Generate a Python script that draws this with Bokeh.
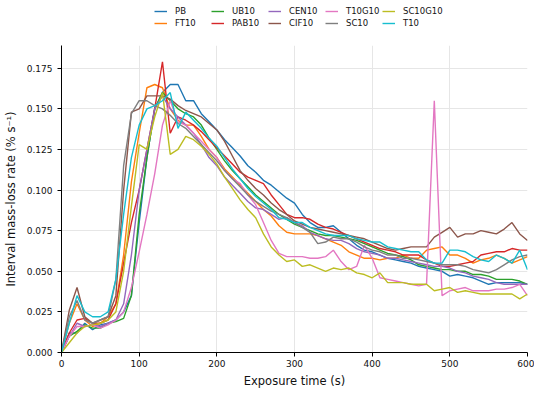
from bokeh.plotting import figure
from bokeh.layouts import column
from bokeh.models import Range1d, FixedTicker, NumeralTickFormatter, Legend, LegendItem
from bokeh.embed import file_html
from bokeh.resources import INLINE

# Exposure time (s), sampled every 10 s
TIME = list(range(0, 610, 10))

PB = [0, 0.012, 0.012, 0.018, 0.014, 0.017, 0.018, 0.020, 0.025, 0.035,
      0.080, 0.120, 0.150, 0.160, 0.165, 0.165, 0.155, 0.155, 0.147, 0.142,
      0.137, 0.131, 0.126, 0.121, 0.115, 0.111, 0.106, 0.103, 0.099, 0.095,
      0.092, 0.085, 0.080, 0.077, 0.077, 0.078, 0.074, 0.070, 0.066, 0.063,
      0.062, 0.060, 0.058, 0.057, 0.056, 0.055, 0.053, 0.052, 0.051, 0.050,
      0.047, 0.048, 0.047, 0.046, 0.044, 0.042, 0.043, 0.043, 0.043, 0.043, 0.042]

FT10 = [0, 0.018, 0.030, 0.020, 0.016, 0.018, 0.022, 0.030, 0.060, 0.105,
        0.135, 0.163, 0.165, 0.163, 0.150, 0.143, 0.140, 0.140, 0.133, 0.125,
        0.120, 0.113, 0.108, 0.103, 0.098, 0.093, 0.088, 0.084, 0.078, 0.074,
        0.073, 0.073, 0.073, 0.072, 0.070, 0.068, 0.066, 0.062, 0.060, 0.058,
        0.058, 0.057, 0.058, 0.058, 0.060, 0.058, 0.058, 0.063, 0.064, 0.065,
        0.060, 0.060, 0.058, 0.055, 0.057, 0.058, 0.060, 0.058, 0.055, 0.057, 0.059]

UB10 = [0, 0.010, 0.013, 0.017, 0.015, 0.015, 0.018, 0.019, 0.021, 0.035,
        0.085, 0.120, 0.150, 0.160, 0.155, 0.150, 0.147, 0.145, 0.140, 0.132,
        0.125, 0.118, 0.112, 0.107, 0.102, 0.097, 0.093, 0.089, 0.085, 0.082,
        0.079, 0.077, 0.075, 0.073, 0.072, 0.072, 0.071, 0.070, 0.069, 0.067,
        0.065, 0.063, 0.061, 0.060, 0.059, 0.057, 0.054, 0.053, 0.052, 0.051,
        0.051, 0.050, 0.050, 0.048, 0.048, 0.047, 0.045, 0.045, 0.045, 0.044, 0.042]

PAB10 = [0, 0.012, 0.020, 0.021, 0.018, 0.018, 0.020, 0.030, 0.055, 0.080,
         0.100, 0.125, 0.150, 0.179, 0.135, 0.145, 0.143, 0.140, 0.136, 0.131,
         0.126, 0.121, 0.116, 0.111, 0.108, 0.106, 0.104, 0.097, 0.091, 0.085,
         0.083, 0.083, 0.082, 0.079, 0.077, 0.076, 0.074, 0.072, 0.070, 0.068,
         0.066, 0.064, 0.063, 0.062, 0.060, 0.060, 0.060, 0.057, 0.055, 0.053,
         0.053, 0.054, 0.055, 0.056, 0.060, 0.061, 0.062, 0.062, 0.064, 0.063, 0.063]

CEN10 = [0, 0.010, 0.018, 0.016, 0.017, 0.016, 0.018, 0.020, 0.030, 0.060,
         0.100, 0.125, 0.150, 0.158, 0.150, 0.145, 0.140, 0.135, 0.128, 0.120,
         0.115, 0.108, 0.103, 0.098, 0.093, 0.089, 0.088, 0.085, 0.082, 0.083,
         0.080, 0.078, 0.074, 0.072, 0.070, 0.069, 0.069, 0.067, 0.064, 0.062,
         0.061, 0.060, 0.058, 0.058, 0.057, 0.056, 0.055, 0.054, 0.053, 0.053,
         0.052, 0.050, 0.049, 0.047, 0.046, 0.045, 0.043, 0.042, 0.042, 0.042, 0.042]

CIF10 = [0, 0.026, 0.040, 0.022, 0.018, 0.020, 0.022, 0.035, 0.100, 0.148,
         0.150, 0.158, 0.158, 0.158, 0.156, 0.152, 0.149, 0.147, 0.145, 0.141,
         0.137, 0.130, 0.121, 0.112, 0.106, 0.101, 0.097, 0.092, 0.088, 0.085,
         0.081, 0.079, 0.077, 0.076, 0.075, 0.074, 0.073, 0.072, 0.071, 0.070,
         0.068, 0.066, 0.064, 0.063, 0.064, 0.065, 0.065, 0.065, 0.071, 0.074,
         0.077, 0.071, 0.073, 0.073, 0.075, 0.074, 0.073, 0.076, 0.080, 0.073, 0.069]

T10G10 = [0, 0.010, 0.016, 0.016, 0.017, 0.015, 0.017, 0.020, 0.025, 0.040,
          0.062, 0.085, 0.110, 0.140, 0.155, 0.142, 0.140, 0.135, 0.130, 0.125,
          0.120, 0.112, 0.107, 0.104, 0.097, 0.091, 0.080, 0.069, 0.061, 0.059,
          0.059, 0.059, 0.058, 0.058, 0.059, 0.063, 0.056, 0.051, 0.053, 0.066,
          0.058, 0.046, 0.045, 0.044, 0.043, 0.042, 0.041, 0.042, 0.155, 0.035,
          0.038, 0.039, 0.040, 0.038, 0.038, 0.038, 0.039, 0.039, 0.040, 0.042, 0.035]

SC10 = [0, 0.022, 0.032, 0.020, 0.018, 0.020, 0.022, 0.045, 0.115, 0.147,
        0.155, 0.155, 0.152, 0.150, 0.146, 0.141, 0.138, 0.133, 0.128, 0.123,
        0.118, 0.112, 0.107, 0.102, 0.097, 0.093, 0.090, 0.087, 0.085, 0.083,
        0.080, 0.077, 0.074, 0.067, 0.068, 0.071, 0.070, 0.070, 0.068, 0.065,
        0.063, 0.062, 0.060, 0.060, 0.058, 0.058, 0.057, 0.056, 0.055, 0.054,
        0.054, 0.054, 0.053, 0.051, 0.050, 0.049, 0.051, 0.054, 0.057, 0.059, 0.060]

SC10G10 = [0, 0.006, 0.012, 0.016, 0.017, 0.018, 0.020, 0.025, 0.050, 0.090,
           0.128, 0.125, 0.145, 0.160, 0.122, 0.125, 0.133, 0.131, 0.127, 0.122,
           0.116, 0.108, 0.101, 0.094, 0.088, 0.083, 0.073, 0.065, 0.060, 0.056,
           0.057, 0.053, 0.054, 0.052, 0.050, 0.052, 0.051, 0.052, 0.049, 0.048,
           0.046, 0.049, 0.043, 0.043, 0.043, 0.042, 0.042, 0.042, 0.038, 0.039,
           0.040, 0.037, 0.038, 0.037, 0.036, 0.036, 0.036, 0.036, 0.036, 0.033, 0.036]

T10 = [0, 0.018, 0.035, 0.025, 0.022, 0.022, 0.025, 0.045, 0.085, 0.120,
       0.140, 0.150, 0.152, 0.155, 0.160, 0.138, 0.148, 0.143, 0.138, 0.132,
       0.127, 0.120, 0.113, 0.107, 0.101, 0.096, 0.092, 0.088, 0.083, 0.082,
       0.080, 0.080, 0.077, 0.075, 0.073, 0.072, 0.072, 0.072, 0.070, 0.069,
       0.068, 0.068, 0.065, 0.064, 0.063, 0.062, 0.062, 0.057, 0.055, 0.055,
       0.063, 0.063, 0.062, 0.059, 0.057, 0.056, 0.060, 0.058, 0.055, 0.063, 0.051]

SERIES_NAMES = ["PB", "FT10", "UB10", "PAB10", "CEN10", "CIF10", "T10G10", "SC10", "SC10G10", "T10"]
SERIES_VALUES = [PB, FT10, UB10, PAB10, CEN10, CIF10, T10G10, SC10, SC10G10, T10]
COLORS = ["#1f77b4", "#ff7f0e", "#2ca02c", "#d62728", "#9467bd",
          "#8c564b", "#e377c2", "#7f7f7f", "#bcbd22", "#17becf"]

X_TICKS = [0, 100, 200, 300, 400, 500, 600]
Y_TICKS = [0.0, 0.025, 0.05, 0.075, 0.1, 0.125, 0.15, 0.175]

FONT = "DejaVu Sans"
LINE_W = 1.4

# ---- main chart ----
p = figure(width=534, height=345, output_backend="svg", toolbar_location=None,
           x_range=Range1d(0, 600), y_range=Range1d(0, 0.189),
           min_border_left=54, min_border_right=7, min_border_top=0, min_border_bottom=38)
p.outline_line_color = None

for name, vals, col in zip(SERIES_NAMES, SERIES_VALUES, COLORS):
    p.line(TIME, vals, line_color=col, line_width=LINE_W)

for ax in (p.xaxis[0], p.yaxis[0]):
    ax.axis_line_color = "black"
    ax.axis_line_width = 1
    ax.major_tick_line_color = "black"
    ax.major_tick_out = 4
    ax.major_tick_in = 0
    ax.minor_tick_line_color = None
    ax.major_label_text_font = FONT
    ax.major_label_text_font_size = "9px"
    ax.major_label_text_color = "#111111"
    ax.axis_label_text_font = FONT
    ax.axis_label_text_font_size = "11.5px"
    ax.axis_label_text_font_style = "normal"
    ax.axis_label_text_color = "#111111"

p.xaxis.ticker = FixedTicker(ticks=X_TICKS)
p.yaxis.ticker = FixedTicker(ticks=Y_TICKS)
p.yaxis.formatter = NumeralTickFormatter(format="0.000")
p.xaxis.axis_label = "Exposure time (s)"
p.yaxis.axis_label = "Interval mass-loss rate (% s⁻¹)"
p.xaxis.major_label_standoff = 3
p.xaxis.axis_label_standoff = 4
p.yaxis.major_label_standoff = 5
p.yaxis.axis_label_standoff = 6

p.xgrid.grid_line_color = "#e6e6e6"
p.ygrid.grid_line_color = "#e6e6e6"
p.xgrid.grid_line_width = 1
p.ygrid.grid_line_width = 1

# ---- legend strip above the chart (its series lie below its visible range) ----
lg = figure(width=534, height=45, output_backend="svg", toolbar_location=None,
            x_range=Range1d(0, 600), y_range=Range1d(1, 2),
            x_axis_type=None, y_axis_type=None,
            min_border_left=0, min_border_right=0, min_border_top=0, min_border_bottom=0)
lg.outline_line_color = None
lg.xgrid.visible = False
lg.ygrid.visible = False

items = []
for name, vals, col in zip(SERIES_NAMES, SERIES_VALUES, COLORS):
    r = lg.line(TIME, vals, line_color=col, line_width=LINE_W)
    items.append(LegendItem(label=name, renderers=[r]))

# filled column by column (2 rows): row 1 = 1st, 3rd, 5th ... entries
row_order = items[0::2] + items[1::2]

legend = Legend(items=row_order, location=(93, 17), orientation="horizontal", ncols=5,
                glyph_width=13, glyph_height=10, label_height=10, label_width=34,
                label_standoff=8, spacing=2, padding=1, margin=0,
                label_text_font=FONT, label_text_font_size="8.5px",
                label_text_color="#111111",
                border_line_color=None, background_fill_alpha=0)
lg.add_layout(legend)

layout = column(lg, p, spacing=0)
open("out.html", "w").write(file_html(layout, INLINE))
